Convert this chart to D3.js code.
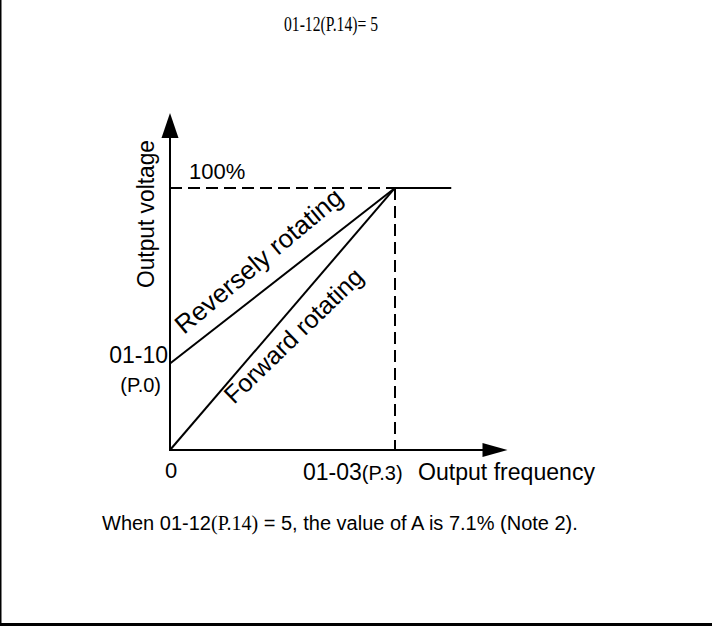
<!DOCTYPE html>
<html><head><meta charset="utf-8">
<script src="https://cdn.jsdelivr.net/npm/d3@7"></script>
<style>body{margin:0;background:#fff}svg{display:block}</style>
</head><body>
<svg id="c" width="712" height="626"></svg>
<script>
// ---- data ----
const titleText = "01-12(P.14)= 5";
const forwardLine = [{f:0, v:0}, {f:1, v:100}];
const reverseLine = [{f:0, v:33}, {f:1, v:100}];
const flatLine = [{f:1, v:100}, {f:1.25, v:100}];
const xMax = 1.5, yMax = 128.6;
const yTickLabels = ["100%", "01-10", "(P.0)"];
const xTickLabels = ["0", "01-03", "(P.3)"];
const axisTitles = ["Output frequency", "Output voltage"];
const lineLabels = ["Reversely rotating", "Forward rotating"];
const noteParts = ["When 01-12", "(P.14)", " = 5, the value of A is 7.1% (Note 2)."];

const SANS = "'Liberation Sans', Arial, sans-serif";
const SERIF = "'Liberation Serif', 'Times New Roman', serif";

const svg = d3.select("#c");
const x = d3.scaleLinear().domain([0, xMax]).range([170, 507.5]);
const y = d3.scaleLinear().domain([0, yMax]).range([450, 113]);

// frame (left and bottom edges)
svg.append("line").attr("x1",0.75).attr("x2",0.75).attr("y1",0).attr("y2",626).attr("stroke","#000").attr("stroke-width",1.5);
svg.append("line").attr("x1",0).attr("x2",712).attr("y1",624.5).attr("y2",624.5).attr("stroke","#000").attr("stroke-width",3);

// title
svg.append("text").attr("x",284).attr("y",31).attr("text-anchor","start")
  .attr("font-family",SERIF).attr("font-size",20).attr("textLength",94).attr("lengthAdjust","spacingAndGlyphs")
  .attr("fill","#000").text(titleText);

const line = d3.line().x(d=>x(d.f)).y(d=>y(d.v));

// dashed guides
svg.append("path").attr("d", line([{f:0,v:100},{f:1,v:100}])).attr("stroke","#000").attr("stroke-width",2).attr("stroke-dasharray","12,6").attr("fill","none");
svg.append("path").attr("d", line([{f:1,v:100},{f:1,v:0}])).attr("stroke","#000").attr("stroke-width",2).attr("stroke-dasharray","12,6").attr("fill","none");

// axes
const ax = svg.append("g");
ax.append("line").attr("x1",x(0)).attr("x2",x(xMax)-24).attr("y1",y(0)).attr("y2",y(0)).attr("stroke","#000").attr("stroke-width",2);
ax.append("line").attr("x1",x(0)).attr("x2",x(0)).attr("y1",y(0)+1).attr("y2",y(yMax)+24).attr("stroke","#000").attr("stroke-width",2);
ax.append("path").attr("d",`M${x(xMax)},${y(0)} L${x(xMax)-25},${y(0)-7} L${x(xMax)-25},${y(0)+7} Z`).attr("fill","#000");
ax.append("path").attr("d",`M${x(0)},${y(yMax)} L${x(0)-8.5},${y(yMax)+25} L${x(0)+8.5},${y(yMax)+25} Z`).attr("fill","#000");

// curves
[forwardLine, reverseLine, flatLine].forEach(d=>{
  svg.append("path").attr("d", line(d)).attr("stroke","#000").attr("stroke-width",2).attr("fill","none");
});

// labels
const t = (xx,yy,txt,size,anchor,fam)=>svg.append("text").attr("x",xx).attr("y",yy).attr("font-family",fam||SANS)
  .attr("font-size",size).attr("text-anchor",anchor||"start").attr("fill","#000").text(txt);

t(189, 179, yTickLabels[0], 22);
t(168, y(reverseLine[0].v)-1, yTickLabels[1], 23, "end");
t(161, 392, yTickLabels[2], 20, "end");
t(x(0)+1, 478, xTickLabels[0], 22, "middle");
const xl = svg.append("text").attr("x",303).attr("y",480).attr("font-family",SANS).attr("fill","#000");
xl.append("tspan").attr("font-size",23).text(xTickLabels[1]);
xl.append("tspan").attr("font-size",20).text(xTickLabels[2]);
t(418, 480, axisTitles[0], 23).attr("textLength",177).attr("lengthAdjust","spacingAndGlyphs");
t(0, 0, axisTitles[1], 23).attr("transform","translate(154,288) rotate(-90)").attr("textLength",148).attr("lengthAdjust","spacingAndGlyphs");

t(0,0,lineLabels[0],26).attr("transform","translate(184,335) rotate(-40)");
t(0,0,lineLabels[1],25).attr("transform","translate(234,405) rotate(-44)");

// note
const nt = svg.append("text").attr("x",102).attr("y",530).attr("font-size",20).attr("fill","#000");
nt.append("tspan").attr("font-family",SANS).text(noteParts[0]);
nt.append("tspan").attr("font-family",SERIF).text(noteParts[1]);
nt.append("tspan").attr("font-family",SANS).attr("xml:space","preserve").text(noteParts[2]);
nt.style("white-space","pre");
</script>
</body></html>
